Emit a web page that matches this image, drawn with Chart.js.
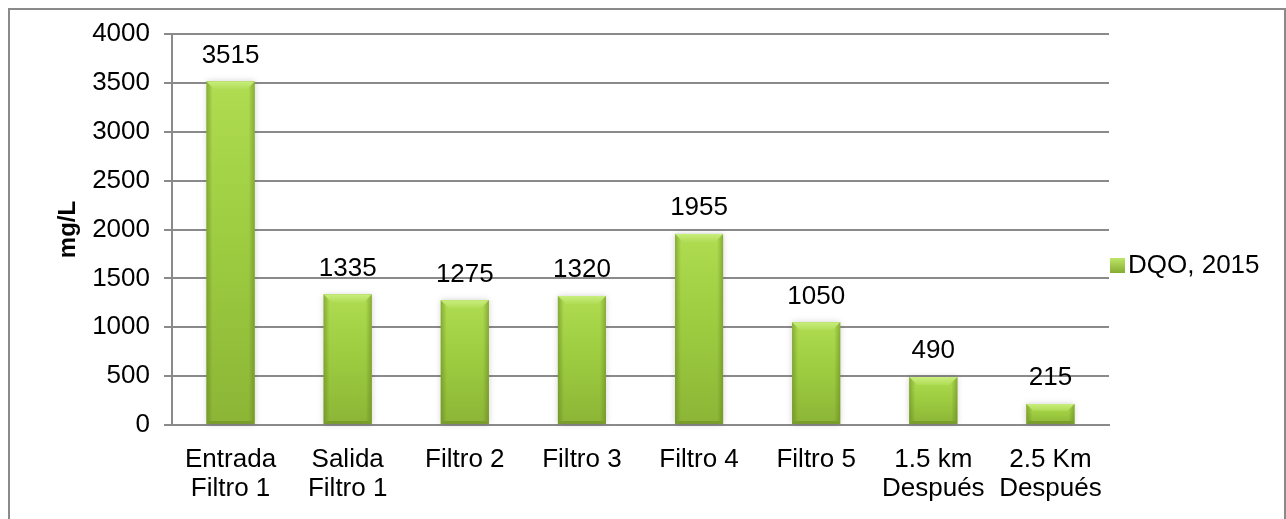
<!DOCTYPE html>
<html>
<head>
<meta charset="utf-8">
<script src="https://cdn.jsdelivr.net/npm/chart.js@4/dist/chart.umd.min.js"></script>
<style>
  html, body { margin: 0; padding: 0; background: #fff; }
  #wrap { width: 1286px; height: 519px; position: relative; }
</style>
</head>
<body>
<div id="wrap"><canvas id="dqo-chart"></canvas></div>
<script>
// DQO por punto de muestreo, 2015
const puntos = [
    ["Entrada", "Filtro 1"],
    ["Salida", "Filtro 1"],
    "Filtro 2",
    "Filtro 3",
    "Filtro 4",
    "Filtro 5",
    ["1.5 km", "Después"],
    ["2.5 Km", "Después"]
];
const dqo2015 = [3515, 1335, 1275, 1320, 1955, 1050, 490, 215];
const serieNombre = "DQO, 2015";
const yMax = 4000;
const yPaso = 500;

const FONT = "'Liberation Sans', Arial, Helvetica, sans-serif";
const FSIZE = 26;

// marco gris alrededor del gráfico
const marco = {
    id: "marco",
    beforeDraw(chart) {
        const ctx = chart.ctx;
        ctx.save();
        ctx.fillStyle = "#fff";
        ctx.fillRect(0, 0, chart.width, chart.height);
        ctx.strokeStyle = "#8a8a8a";
        ctx.lineWidth = 2;
        ctx.strokeRect(9, 9, chart.width - 10, chart.height + 20);
        ctx.restore();
    }
};

// relieve de las barras (biselado estilo Excel) + etiquetas de valor
const barrasBisel = {
    id: "barrasBisel",
    afterDatasetsDraw(chart) {
        const ctx = chart.ctx;
        const meta = chart.getDatasetMeta(0);
        ctx.save();
        meta.data.forEach((bar, i) => {
            const w = bar.width;
            const l = bar.x - w / 2;
            const r = bar.x + w / 2;
            const t = bar.y;
            const b = bar.base;

            // sombra suave
            ctx.save();
            ctx.shadowColor = "rgba(0,0,0,0.18)";
            ctx.shadowBlur = 6;
            let g = ctx.createLinearGradient(0, t, 0, b);
            g.addColorStop(0, "#afdc50");
            g.addColorStop(0.5, "#9ccb40");
            g.addColorStop(1, "#8cb536");
            ctx.fillStyle = g;
            ctx.fillRect(l, t, w, b - t);
            ctx.restore();

            // bordes laterales más oscuros
            g = ctx.createLinearGradient(l, 0, l + 6, 0);
            g.addColorStop(0, "rgba(90,115,25,0.45)");
            g.addColorStop(1, "rgba(90,115,25,0)");
            ctx.fillStyle = g;
            ctx.fillRect(l, t, 6, b - t);
            g = ctx.createLinearGradient(r - 6, 0, r, 0);
            g.addColorStop(0, "rgba(90,115,25,0)");
            g.addColorStop(1, "rgba(90,115,25,0.45)");
            ctx.fillStyle = g;
            ctx.fillRect(r - 6, t, 6, b - t);

            // bisel superior
            const bv = Math.min(8, (b - t) / 3);
            g = ctx.createLinearGradient(0, t, 0, t + bv);
            g.addColorStop(0, "#c8ee7c");
            g.addColorStop(1, "#b0dc56");
            ctx.fillStyle = g;
            ctx.beginPath();
            ctx.moveTo(l, t);
            ctx.lineTo(r, t);
            ctx.lineTo(r - bv, t + bv);
            ctx.lineTo(l + bv, t + bv);
            ctx.closePath();
            ctx.fill();

            // bisel inferior
            const bb = Math.min(3, (b - t) / 4);
            ctx.fillStyle = "#7a9c2c";
            ctx.beginPath();
            ctx.moveTo(l + bb, b - bb);
            ctx.lineTo(r - bb, b - bb);
            ctx.lineTo(r, b);
            ctx.lineTo(l, b);
            ctx.closePath();
            ctx.fill();

            // valor sobre la barra
            ctx.fillStyle = "#000";
            ctx.font = FSIZE + "px " + FONT;
            ctx.textAlign = "center";
            ctx.textBaseline = "bottom";
            ctx.fillText(String(dqo2015[i]), bar.x, t - 13);
        });
        ctx.restore();
    }
};

// leyenda a la derecha
const leyenda = {
    id: "leyenda",
    afterDraw(chart) {
        const ctx = chart.ctx;
        const x = chart.chartArea.right + 1;
        const y = 265;
        ctx.save();
        const g = ctx.createLinearGradient(0, y - 7, 0, y + 8);
        g.addColorStop(0, "#bde668");
        g.addColorStop(1, "#86ab32");
        ctx.fillStyle = g;
        ctx.fillRect(x, y - 7, 15, 15);
        ctx.fillStyle = "#000";
        ctx.font = FSIZE + "px " + FONT;
        ctx.textAlign = "left";
        ctx.textBaseline = "middle";
        ctx.fillText(serieNombre, x + 18, y + 1);
        ctx.restore();
    }
};

new Chart(document.getElementById("dqo-chart"), {
    type: "bar",
    data: {
        labels: puntos,
        datasets: [{
            label: serieNombre,
            data: dqo2015,
            backgroundColor: "#9ccb40",
            borderWidth: 0,
            barPercentage: 0.82,
            categoryPercentage: 0.5
        }]
    },
    options: {
        responsive: true,
        maintainAspectRatio: false,
        animation: false,
        layout: { padding: { top: 34, right: 177, bottom: 0, left: 0 } },
        plugins: {
            legend: { display: false },
            tooltip: { enabled: false }
        },
        scales: {
            x: {
                grid: { display: false },
                border: { display: true, color: "#8a8a8a", width: 2 },
                ticks: {
                    color: "#000",
                    font: { family: FONT, size: FSIZE, lineHeight: 1.1 },
                    padding: 13,
                    maxRotation: 0,
                    autoSkip: false
                },
                afterFit(scale) { scale.height = 94; }
            },
            y: {
                min: 0,
                max: yMax,
                ticks: {
                    stepSize: yPaso,
                    color: "#000",
                    font: { family: FONT, size: FSIZE },
                    padding: 14,
                    callback: (v) => String(v)
                },
                grid: { color: "#8a8a8a", lineWidth: 2, tickLength: 8 },
                border: { display: true, color: "#8a8a8a", width: 2 },
                title: {
                    display: true,
                    text: "mg/L",
                    color: "#000",
                    font: { family: FONT, size: 24, weight: "bold" },
                    padding: { top: 54, bottom: 0 }
                },
                afterFit(scale) { scale.width = 172; }
            }
        }
    },
    plugins: [marco, barrasBisel, leyenda]
});
</script>
</body>
</html>
